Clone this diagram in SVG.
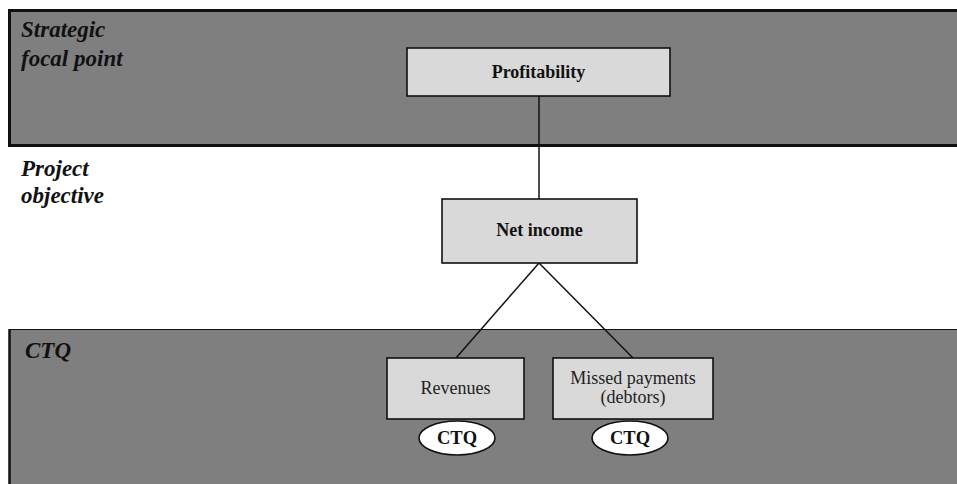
<svg xmlns="http://www.w3.org/2000/svg" width="957" height="484" viewBox="0 0 957 484">
  <style>
    .band { fill: #7f7f7f; stroke: #111; }
    .box { fill: #d9d9d9; stroke: #111; stroke-width: 1.6; }
    .tag { fill: #fff; stroke: #111; stroke-width: 1.6; }
    .lvl { font-family: "Liberation Serif", serif; font-style: italic; font-weight: bold; font-size: 23px; fill: #111; }
    .bt { font-family: "Liberation Serif", serif; font-weight: bold; font-size: 18px; fill: #111; text-anchor: middle; }
    .rt { font-family: "Liberation Serif", serif; font-size: 18px; fill: #222; text-anchor: middle; }
    .ct { font-family: "Liberation Serif", serif; font-weight: bold; font-size: 18.5px; fill: #111; text-anchor: middle; }
    .conn { stroke: #111; stroke-width: 1.5; fill: none; }
  </style>
  <rect width="957" height="484" fill="#fff"/>

  <!-- level bands -->
  <g id="band-strategic">
    <rect class="band" x="9.5" y="10.5" width="960" height="135" stroke-width="3"/>
    <text class="lvl" x="21" y="37">Strategic</text>
    <text class="lvl" x="21" y="66">focal point</text>
  </g>
  <g id="band-project">
    <text class="lvl" x="21" y="176">Project</text>
    <text class="lvl" x="21" y="203">objective</text>
  </g>
  <g id="band-ctq">
    <rect class="band" x="9.5" y="329.5" width="960" height="170" stroke-width="1"/>
    <line x1="9.5" y1="329" x2="9.5" y2="484" stroke="#111" stroke-width="2.5"/>
    <text class="lvl" x="25" y="358">CTQ</text>
  </g>

  <!-- connectors -->
  <g id="connectors">
    <line class="conn" x1="539" y1="96" x2="539" y2="199"/>
    <line class="conn" x1="539" y1="263" x2="456" y2="358"/>
    <line class="conn" x1="539" y1="263" x2="633" y2="358"/>
  </g>

  <g id="node-profitability">
    <rect class="box" x="407" y="48" width="263" height="48"/>
    <text class="bt" x="538.5" y="78">Profitability</text>
  </g>
  <g id="node-net-income">
    <rect class="box" x="442" y="199" width="195" height="64"/>
    <text class="bt" x="539.5" y="236" font-size="19.5">Net income</text>
  </g>
  <g id="node-revenues">
    <rect class="box" x="387" y="358" width="137" height="61"/>
    <text class="rt" x="455.5" y="394">Revenues</text>
  </g>
  <g id="node-missed-payments">
    <rect class="box" x="553" y="358" width="160" height="61"/>
    <text class="rt" x="633" y="384">Missed payments</text>
    <text class="rt" x="633" y="403">(debtors)</text>
  </g>
  <g id="tag-revenues">
    <ellipse class="tag" cx="457" cy="438" rx="38" ry="17"/>
    <text class="ct" x="457" y="444">CTQ</text>
  </g>
  <g id="tag-missed-payments">
    <ellipse class="tag" cx="630" cy="438" rx="38" ry="17"/>
    <text class="ct" x="630" y="444">CTQ</text>
  </g>
</svg>
